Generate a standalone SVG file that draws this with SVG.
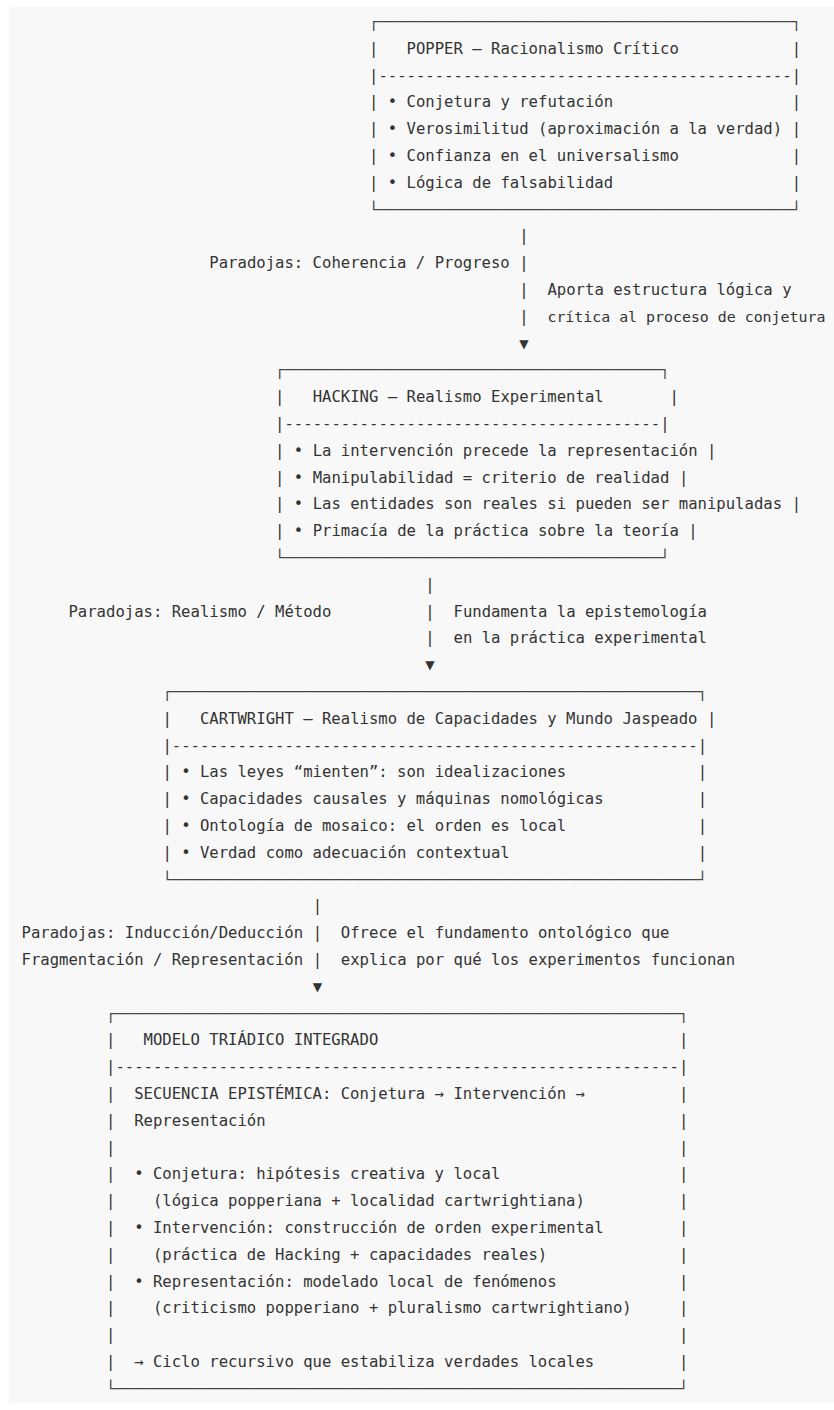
<svg xmlns="http://www.w3.org/2000/svg" width="834" height="1410" viewBox="0 0 834 1410">
<style>
text{font-family:"DejaVu Sans Mono","Liberation Mono",monospace;font-size:15.6px;fill:#333;white-space:pre}
.bd{fill:#444}
.sm{font-size:14.9px}
</style>
<rect x="0" y="0" width="834" height="1410" fill="#ffffff"/>
<rect x="9" y="7" width="825" height="1396" fill="#f8f8f8"/>

<g id="popper" xml:space="preserve">
<text class="bd" x="369.0" y="26.9" textLength="432.03" lengthAdjust="spacingAndGlyphs">┌────────────────────────────────────────────┐</text>
<text x="369.0" y="53.7">|   POPPER — Racionalismo Crítico</text><text x="791.64" y="53.7">|</text>
<text x="369.0" y="80.5" textLength="432.03" lengthAdjust="spacing">|--------------------------------------------|</text>
<text x="369.0" y="107.3">| • Conjetura y refutación</text><text x="791.64" y="107.3">|</text>
<text x="369.0" y="134.1">| • Verosimilitud (aproximación a la verdad)</text><text x="791.64" y="134.1">|</text>
<text x="369.0" y="160.9">| • Confianza en el universalismo</text><text x="791.64" y="160.9">|</text>
<text x="369.0" y="187.7">| • Lógica de falsabilidad</text><text x="791.64" y="187.7">|</text>
<text class="bd" x="369.0" y="214.5" textLength="432.03" lengthAdjust="spacingAndGlyphs">└────────────────────────────────────────────┘</text>
</g>

<g id="hacking" xml:space="preserve">
<text class="bd" x="275.08" y="375.3" textLength="394.46" lengthAdjust="spacingAndGlyphs">┌────────────────────────────────────────┐</text>
<text x="275.08" y="402.1">|   HACKING — Realismo Experimental</text><text x="669.55" y="402.1">|</text>
<text x="275.08" y="428.9" textLength="394.46" lengthAdjust="spacing">|----------------------------------------|</text>
<text x="275.08" y="455.7">| • La intervención precede la representación</text><text x="707.12" y="455.7">|</text>
<text x="275.08" y="482.5">| • Manipulabilidad = criterio de realidad</text><text x="678.94" y="482.5">|</text>
<text x="275.08" y="509.3">| • Las entidades son reales si pueden ser manipuladas</text><text x="791.64" y="509.3">|</text>
<text x="275.08" y="536.1">| • Primacía de la práctica sobre la teoría</text><text x="688.33" y="536.1">|</text>
<text class="bd" x="275.08" y="562.9" textLength="394.46" lengthAdjust="spacingAndGlyphs">└────────────────────────────────────────┘</text>
</g>

<g id="cartwright" xml:space="preserve">
<text class="bd" x="162.38" y="696.9" textLength="544.74" lengthAdjust="spacingAndGlyphs">┌────────────────────────────────────────────────────────┐</text>
<text x="162.38" y="723.7">|   CARTWRIGHT — Realismo de Capacidades y Mundo Jaspeado</text><text x="707.12" y="723.7">|</text>
<text x="162.38" y="750.5" textLength="544.74" lengthAdjust="spacing">|--------------------------------------------------------|</text>
<text x="162.38" y="777.3">| • Las leyes “mienten”: son idealizaciones</text><text x="697.72" y="777.3">|</text>
<text x="162.38" y="804.1">| • Capacidades causales y máquinas nomológicas</text><text x="697.72" y="804.1">|</text>
<text x="162.38" y="830.9">| • Ontología de mosaico: el orden es local</text><text x="697.72" y="830.9">|</text>
<text x="162.38" y="857.7">| • Verdad como adecuación contextual</text><text x="697.72" y="857.7">|</text>
<text class="bd" x="162.38" y="884.5" textLength="544.74" lengthAdjust="spacingAndGlyphs">└────────────────────────────────────────────────────────┘</text>
</g>

<g id="modelo" xml:space="preserve">
<text class="bd" x="106.03" y="1018.5" textLength="582.30" lengthAdjust="spacingAndGlyphs">┌────────────────────────────────────────────────────────────┐</text>
<text x="106.03" y="1045.3">|   MODELO TRIÁDICO INTEGRADO</text><text x="678.94" y="1045.3">|</text>
<text x="106.03" y="1072.1" textLength="582.30" lengthAdjust="spacing">|------------------------------------------------------------|</text>
<text x="106.03" y="1098.9">|  SECUENCIA EPISTÉMICA: Conjetura → Intervención →</text><text x="678.94" y="1098.9">|</text>
<text x="106.03" y="1125.7">|  Representación</text><text x="678.94" y="1125.7">|</text>
<text x="106.03" y="1152.5">|</text><text x="678.94" y="1152.5">|</text>
<text x="106.03" y="1179.3">|  • Conjetura: hipótesis creativa y local</text><text x="678.94" y="1179.3">|</text>
<text x="106.03" y="1206.1">|    (lógica popperiana + localidad cartwrightiana)</text><text x="678.94" y="1206.1">|</text>
<text x="106.03" y="1232.9">|  • Intervención: construcción de orden experimental</text><text x="678.94" y="1232.9">|</text>
<text x="106.03" y="1259.7">|    (práctica de Hacking + capacidades reales)</text><text x="678.94" y="1259.7">|</text>
<text x="106.03" y="1286.5">|  • Representación: modelado local de fenómenos</text><text x="678.94" y="1286.5">|</text>
<text x="106.03" y="1313.3">|    (criticismo popperiano + pluralismo cartwrightiano)</text><text x="678.94" y="1313.3">|</text>
<text x="106.03" y="1340.1">|</text><text x="678.94" y="1340.1">|</text>
<text x="106.03" y="1366.9">|  → Ciclo recursivo que estabiliza verdades locales</text><text x="678.94" y="1366.9">|</text>
<text class="bd" x="106.03" y="1393.7" textLength="582.30" lengthAdjust="spacingAndGlyphs">└────────────────────────────────────────────────────────────┘</text>
</g>

<g id="connectors" xml:space="preserve">
<text x="519.28" y="241.3">|</text>
<text x="209.34" y="268.1">Paradojas: Coherencia / Progreso</text><text x="519.28" y="268.1">|</text>
<text x="519.28" y="294.9">|</text><text x="547.45" y="294.9">Aporta estructura lógica y</text>
<text x="519.28" y="321.7">|</text><text class="sm" x="547.45" y="321.7">crítica al proceso de conjetura</text>
<text x="519.28" y="348.5">▼</text>

<text x="425.36" y="589.7">|</text>
<text x="68.46" y="616.5">Paradojas: Realismo / Método</text><text x="425.36" y="616.5">|</text><text x="453.53" y="616.5">Fundamenta la epistemología</text>
<text x="425.36" y="643.3">|</text><text x="453.53" y="643.3">en la práctica experimental</text>
<text x="425.36" y="670.1">▼</text>

<text x="312.65" y="911.3">|</text>
<text x="21.5" y="938.1">Paradojas: Inducción/Deducción</text><text x="312.65" y="938.1">|</text><text x="340.83" y="938.1">Ofrece el fundamento ontológico que</text>
<text x="21.5" y="964.9">Fragmentación / Representación</text><text x="312.65" y="964.9">|</text><text x="340.83" y="964.9">explica por qué los experimentos funcionan</text>
<text x="312.65" y="991.7">▼</text>
</g>
</svg>
